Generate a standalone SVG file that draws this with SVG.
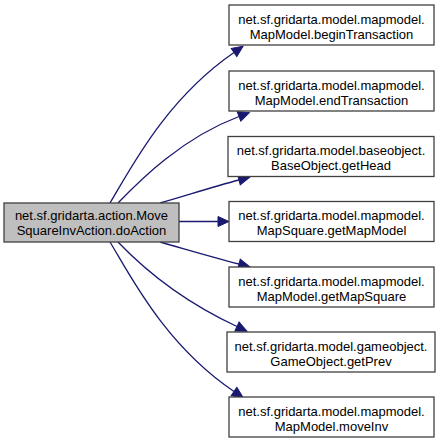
<svg xmlns="http://www.w3.org/2000/svg" width="443" height="444" viewBox="0 0 443 444">
<defs>
<style>
.node rect{fill:#ffffff;stroke:#404040;stroke-width:1.3}
.node.main rect{fill:#bfbfbf}
.node text{font-family:"Liberation Sans",Arial,sans-serif;font-size:13px;fill:#000;text-anchor:middle}
.edges path{fill:none;stroke:#191970;stroke-width:1.3}
</style>
<marker id="arr" markerUnits="userSpaceOnUse" markerWidth="12" markerHeight="12" refX="0" refY="0" viewBox="0 -6 12 12" orient="auto" overflow="visible">
<path d="M0,-5 L11,0 L0,5 z" fill="#191970" stroke="#191970" stroke-width="1"/>
</marker>
</defs>
<rect width="443" height="444" fill="#ffffff"/>
<g class="edges">
<path d="M110,203 C130,170 165,100 234,52.5" marker-end="url(#arr)"/>
<path d="M118,203 C140,180 182,138 239,116.5" marker-end="url(#arr)"/>
<path d="M160,203 C185,196 212,187 239,180" marker-end="url(#arr)"/>
<path d="M179,221.5 L218,221.5" marker-end="url(#arr)"/>
<path d="M160,242 C185,249 212,257 239,264" marker-end="url(#arr)"/>
<path d="M118,242 C140,265 180,300 237,326.5" marker-end="url(#arr)"/>
<path d="M110,242 C130,275 165,345 234,391.5" marker-end="url(#arr)"/>
</g>
<g id="node-main" class="node main">
<rect x="4" y="203" width="175" height="39"/>
<text x="91.5" y="220">net.sf.gridarta.action.Move</text>
<text x="91.5" y="235">SquareInvAction.doAction</text>
</g>
<g id="node-beginTransaction" class="node">
<rect x="229" y="5" width="205" height="40"/>
<text x="331.5" y="23.5">net.sf.gridarta.model.mapmodel.</text>
<text x="331.5" y="38.5">MapModel.beginTransaction</text>
</g>
<g id="node-endTransaction" class="node">
<rect x="229" y="71" width="205" height="40"/>
<text x="331.5" y="89.5">net.sf.gridarta.model.mapmodel.</text>
<text x="331.5" y="104.5">MapModel.endTransaction</text>
</g>
<g id="node-getHead" class="node">
<rect x="228" y="136.5" width="206" height="40"/>
<text x="331" y="155">net.sf.gridarta.model.baseobject.</text>
<text x="331" y="170">BaseObject.getHead</text>
</g>
<g id="node-getMapModel" class="node">
<rect x="229" y="201.5" width="205" height="40"/>
<text x="331.5" y="220">net.sf.gridarta.model.mapmodel.</text>
<text x="331.5" y="235">MapSquare.getMapModel</text>
</g>
<g id="node-getMapSquare" class="node">
<rect x="229" y="267" width="205" height="40"/>
<text x="331.5" y="285.5">net.sf.gridarta.model.mapmodel.</text>
<text x="331.5" y="300.5">MapModel.getMapSquare</text>
</g>
<g id="node-getPrev" class="node">
<rect x="227" y="332" width="208" height="40"/>
<text x="331" y="350.5">net.sf.gridarta.model.gameobject.</text>
<text x="331" y="365.5">GameObject.getPrev</text>
</g>
<g id="node-moveInv" class="node">
<rect x="229" y="397" width="205" height="40"/>
<text x="331.5" y="415.5">net.sf.gridarta.model.mapmodel.</text>
<text x="331.5" y="430.5">MapModel.moveInv</text>
</g>
</svg>
